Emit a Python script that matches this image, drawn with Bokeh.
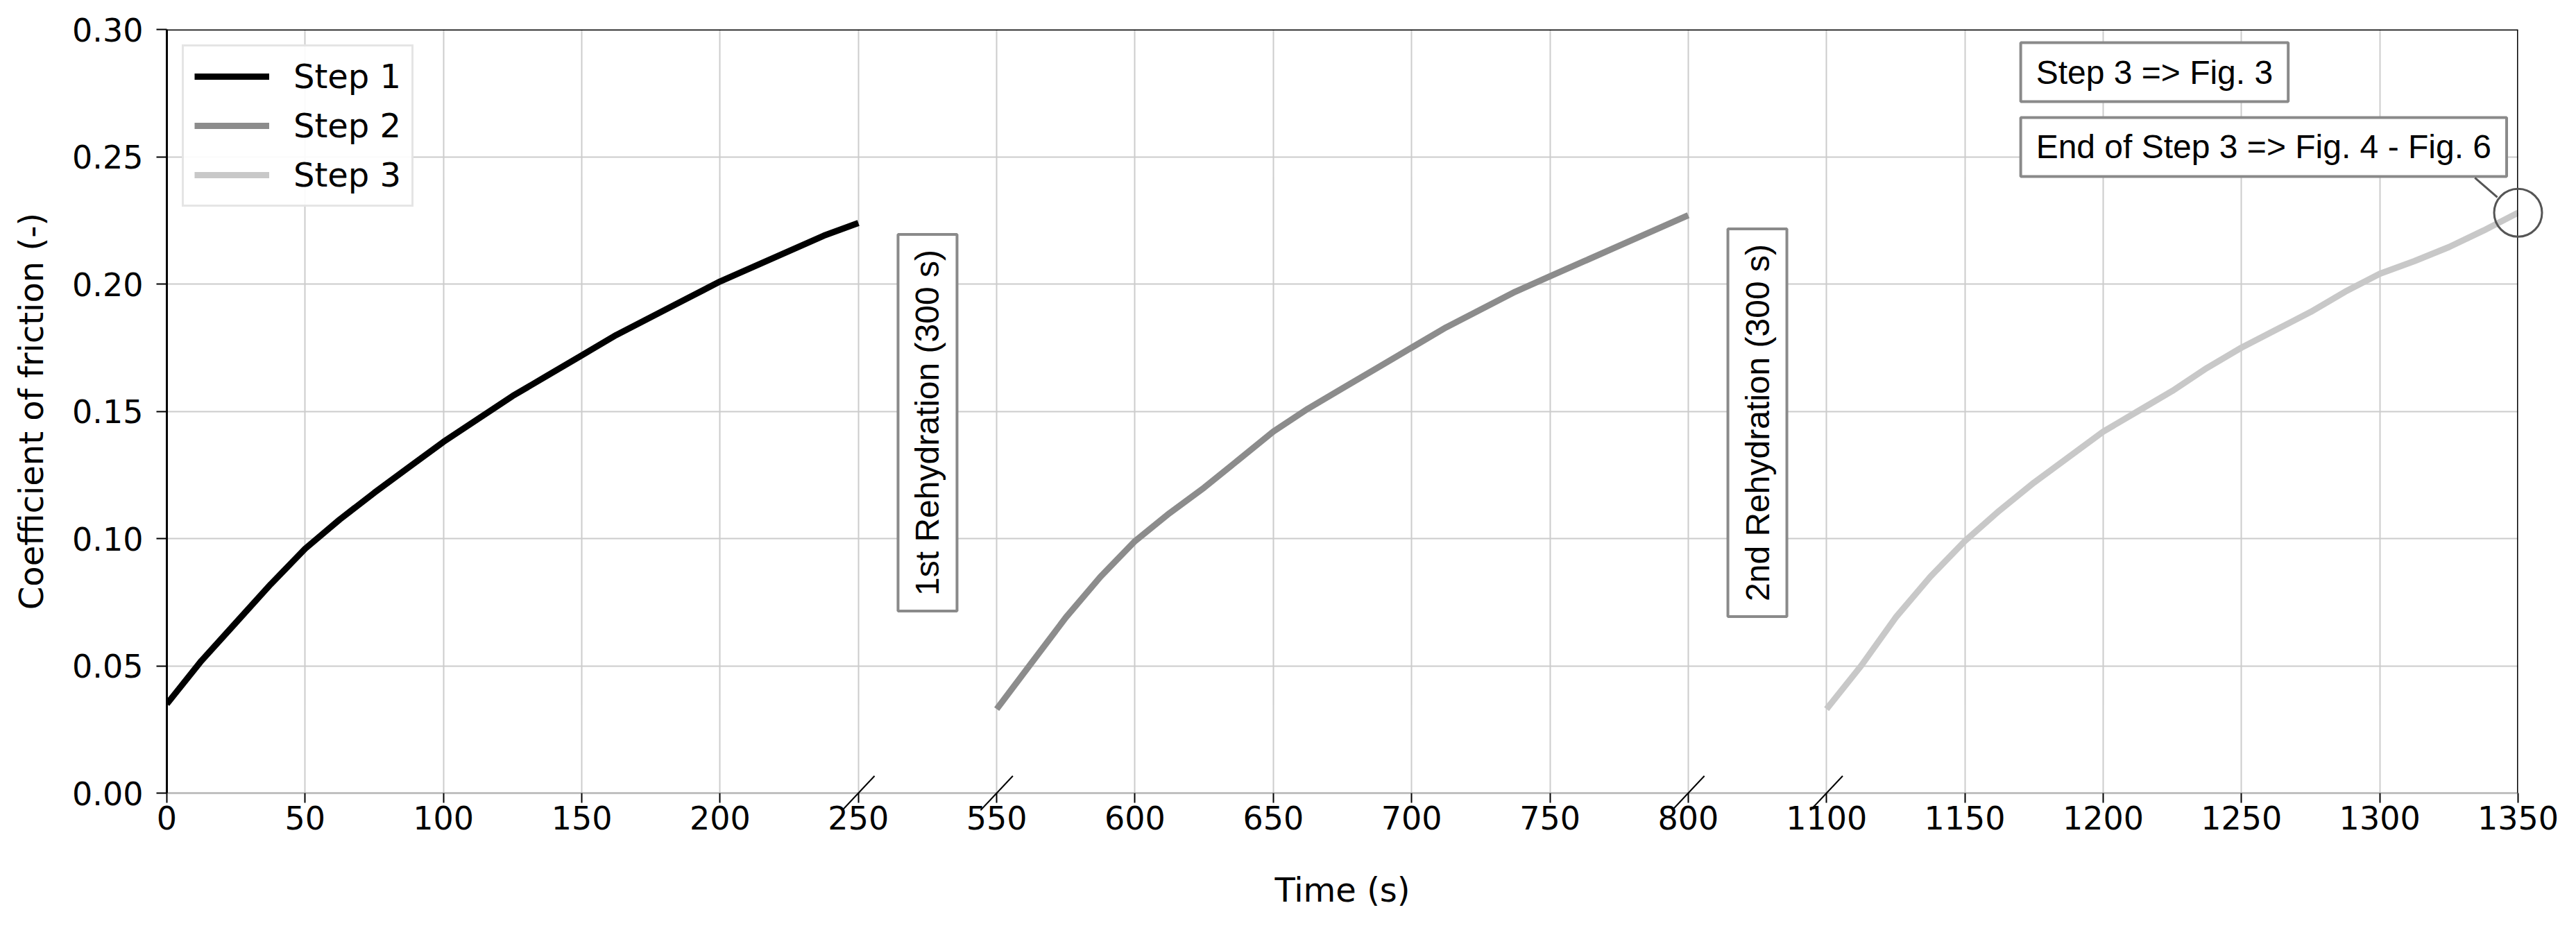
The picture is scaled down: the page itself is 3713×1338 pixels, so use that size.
from bokeh.plotting import figure
from bokeh.models import (Range1d, FixedTicker, CustomJSTickFormatter, Legend, LegendItem,
                          Label, Span, NumeralTickFormatter)
from bokeh.embed import file_html
from bokeh.resources import INLINE

# ---------------- data ----------------
step1_time = [0, 12.5, 25, 37.5, 50, 62.5, 75, 87.5, 100, 112.5, 125, 137.5, 150, 162.5, 175,
              187.5, 200, 212.5, 225, 237.5, 250]
step1_cof = [0.035, 0.052, 0.067, 0.082, 0.096, 0.1075, 0.118, 0.128, 0.138, 0.147, 0.156, 0.164,
             0.172, 0.180, 0.187, 0.194, 0.201, 0.207, 0.213, 0.219, 0.224]
step2_time = [550, 562.5, 575, 587.5, 600, 612.5, 625, 637.5, 650, 662.5, 675, 687.5, 700, 712.5,
              725, 737.5, 750, 762.5, 775, 787.5, 800]
step2_cof = [0.033, 0.051, 0.069, 0.085, 0.099, 0.110, 0.120, 0.131, 0.142, 0.151, 0.159, 0.167,
             0.175, 0.183, 0.190, 0.197, 0.203, 0.209, 0.215, 0.221, 0.227]
step3_time = [1100, 1112.5, 1125, 1137.5, 1150, 1162.5, 1175, 1187.5, 1200, 1212.5, 1225, 1237.5,
              1250, 1262.5, 1275, 1287.5, 1300, 1312.5, 1325, 1337.5, 1350]
step3_cof = [0.033, 0.050, 0.069, 0.085, 0.099, 0.111, 0.122, 0.132, 0.142, 0.150, 0.158, 0.167,
             0.175, 0.182, 0.189, 0.197, 0.204, 0.209, 0.2145, 0.221, 0.228]
series_names = ["Step 1", "Step 2", "Step 3"]
series_colors = ["#000000", "#8c8c8c", "#c8c8c8"]
segments = [(0, 250), (550, 800), (1100, 1350)]      # recorded time windows (s)
break_width = 50                                       # axis space given to each rehydration break
rehydration_labels = ["1st Rehydration (300 s)", "2nd Rehydration (300 s)"]
note_labels = ["Step 3 => Fig. 3", "End of Step 3 => Fig. 4 - Fig. 6"]
y_ticks = [0.00, 0.05, 0.10, 0.15, 0.20, 0.25, 0.30]
x_tick_step = 50

# ---------------- broken-axis mapping ----------------
disp_start = []
pos = 0
for a, b in segments:
    disp_start.append(pos)
    pos += (b - a) + break_width
disp_total = pos - break_width
offsets = [a - d for (a, b), d in zip(segments, disp_start)]


def to_axis(t):
    k = 0
    for i, (a, b) in enumerate(segments):
        if t >= a:
            k = i
    return t - offsets[k]


W, H = 3697, 1322
p = figure(width=W, height=H, x_range=Range1d(0, disp_total), y_range=Range1d(0, 0.30),
           output_backend="svg", toolbar_location=None,
           min_border_left=240, min_border_right=68, min_border_top=42, min_border_bottom=179,
           outline_line_color=None, background_fill_color="white", border_fill_color="white")

tick_font = "DejaVu Sans"
p.xaxis.ticker = FixedTicker(ticks=list(range(0, disp_total + 1, x_tick_step)))
p.xaxis.formatter = CustomJSTickFormatter(args=dict(starts=disp_start, offs=offsets), code="""
let k = 0;
for (let i = 0; i < starts.length; i++) { if (tick >= starts[i] - 1e-9) k = i; }
return String(Math.round(tick + offs[k]));
""")
p.yaxis.ticker = FixedTicker(ticks=y_ticks)
p.yaxis.formatter = NumeralTickFormatter(format="0.00")

for ax in (p.xaxis, p.yaxis):
    ax.major_label_text_font = tick_font
    ax.major_label_text_font_size = "46px"
    ax.major_label_text_color = "black"
    ax.axis_label_text_font = tick_font
    ax.axis_label_text_font_size = "48px"
    ax.axis_label_text_font_style = "normal"
    ax.axis_label_text_color = "black"
    ax.minor_tick_line_color = None
    ax.major_tick_in = 0
    ax.major_tick_line_color = "black"
    ax.major_tick_line_width = 2

p.xaxis.axis_label = "Time (s)"
p.yaxis.axis_label = "Coefficient of friction (-)"
p.xaxis.major_tick_out = 14
p.yaxis.major_tick_out = 15
p.xaxis.major_label_standoff = 4
p.yaxis.major_label_standoff = 19
p.xaxis.axis_label_standoff = 56
p.yaxis.axis_label_standoff = 28
p.xaxis.axis_line_color = "#c0c0c0"
p.xaxis.axis_line_width = 3
p.yaxis.axis_line_color = "black"
p.yaxis.axis_line_width = 3

p.grid.grid_line_color = "#cccccc"
p.grid.grid_line_width = 2

# frame top / right edges
p.add_layout(Span(location=0.30, dimension="width", line_color="black", line_width=3))
p.add_layout(Span(location=disp_total, dimension="height", line_color="black", line_width=3))

# ---------------- series ----------------
renderers = []
for t, c, col in zip([step1_time, step2_time, step3_time], [step1_cof, step2_cof, step3_cof], series_colors):
    r = p.line([to_axis(v) for v in t], c, line_color=col, line_width=9)
    renderers.append(r)

legend = Legend(items=[LegendItem(label=n, renderers=[r]) for n, r in zip(series_names, renderers)],
                location="top_left", margin=22, padding=15, spacing=15,
                glyph_width=108, glyph_height=56, label_height=56, label_standoff=35,
                label_text_font=tick_font, label_text_font_size="48px", label_text_color="black",
                border_line_color="#cccccc", border_line_width=3,
                background_fill_color="white", background_fill_alpha=0.9)
p.add_layout(legend)

# ---------------- break marks on the x axis ----------------
break_pos = []
for i in range(len(segments) - 1):
    break_pos.append(disp_start[i] + segments[i][1] - segments[i][0])
    break_pos.append(disp_start[i + 1])
bm = p.scatter(break_pos, [0] * len(break_pos), marker="dash", size=68, angle=46.8, angle_units="deg",
               line_color="black", line_width=2)
bm.level = "overlay"

# ---------------- annotations ----------------
ann_font = "Liberation Sans"
for i, txt in enumerate(rehydration_labels):
    gx = disp_start[i] + (segments[i][1] - segments[i][0]) + break_width / 2
    p.add_layout(Label(x=gx, y=0.1455, text=txt, angle=90, angle_units="deg", anchor="center",
                       text_font=ann_font, text_font_size="48px", text_color="black",
                       border_line_color="#8a8a8a", border_line_width=4,
                       background_fill_color="white", padding=(22, 16)))

note_y = [0.2948, 0.2654]
for txt, ny in zip(note_labels, note_y):
    p.add_layout(Label(x=670.2, y=ny, text=txt, anchor="top_left",
                       text_font=ann_font, text_font_size="48px", text_color="black",
                       border_line_color="#8a8a8a", border_line_width=4,
                       background_fill_color="white", padding=(22, 16)))

end_x = to_axis(step3_time[-1])
end_y = step3_cof[-1]
ptr = p.segment(x0=[834.4], y0=[0.2417], x1=[842.5], y1=[0.2341], line_color="#555555", line_width=3)
ptr.level = "overlay"
circ = p.scatter([end_x], [end_y], marker="circle", size=69, fill_color=None,
                 line_color="#555555", line_width=3)
circ.level = "overlay"

open("out.html", "w").write(file_html(p, INLINE))
